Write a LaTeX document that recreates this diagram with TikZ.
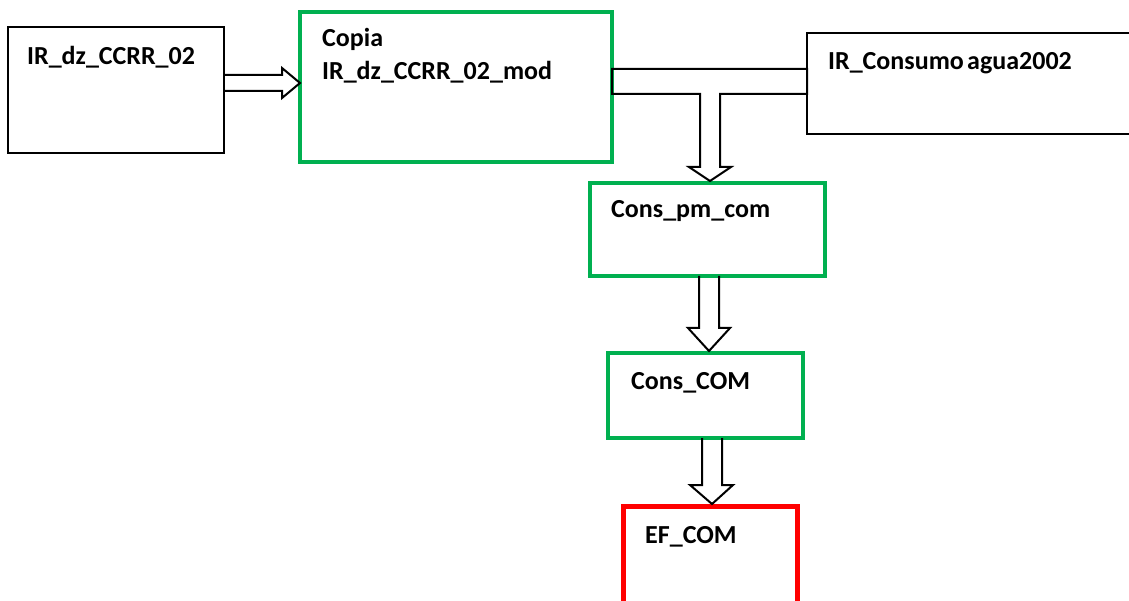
\documentclass[tikz,border=0pt]{standalone}
\usepackage{fontspec}
\setmainfont{Carlito}
\usetikzlibrary{calc}
\definecolor{boxgreen}{RGB}{0,176,80}
\definecolor{boxred}{RGB}{255,0,0}

\begin{document}
\begin{tikzpicture}[x=1pt,y=-1pt,
  box/.style={draw, rectangle, inner sep=0pt, outer sep=0pt},
  plainbox/.style={box, draw=black, line width=2pt},
  stagebox/.style={box, draw=boxgreen, line width=4.5pt},
  resultbox/.style={box, draw=boxred, line width=5pt},
  boxtext/.style={anchor=base west, inner sep=0pt, font=\fontsize{26}{33}\selectfont\bfseries},
  hollow/.style={draw=black, line width=2pt, line join=miter}]

\useasboundingbox (0,0) rectangle (1129,601);
\clip (0,0) rectangle (1129,601);

% boxes
\node[plainbox, minimum width=216pt, minimum height=126pt] (src) at (116,90) {};
\node[stagebox, minimum width=312pt, minimum height=150pt] (copy) at (456,87) {};
\node[plainbox, minimum width=333pt, minimum height=101pt] (water) at (973.5,83.5) {};
\node[stagebox, minimum width=235pt, minimum height=93pt] (pm) at (707.5,229.5) {};
\node[stagebox, minimum width=195pt, minimum height=85pt] (com) at (705.5,395.5) {};
\node[resultbox, minimum width=174pt, minimum height=109pt] (ef) at (710,560.5) {};

% box titles
\node[boxtext] (srct) at (27,65) {IR\_dz\_CCRR\_02};
\node[boxtext] (copyt1) at (322,47) {Copia};
\node[boxtext] (copyt2) at (322,80) {IR\_dz\_CCRR\_02\_mod};
\node[boxtext] (watert) at (828,70) {IR\_Consumo\kern-0.1em\ agua2002};
\node[boxtext] (pmt) at (611,218) {Cons\_pm\_com};
\node[boxtext] (comt) at (631,389) {Cons\_COM};
\node[boxtext] (eft) at (645,543) {EF\_COM};

% hollow block arrows
\draw[hollow] (src.east |- 0,75) -- (282,75) -- (282,68) -- (copy.west |- 0,83)
  -- (282,98) -- (282,91) -- (src.east |- 0,91);

\draw[hollow] (copy.east |- 0,69) -- (water.west |- 0,69) -- (water.west |- 0,94)
  -- (720,94) -- (720,167) -- (731,167) -- (710,181) -- (689,167) -- (700,167)
  -- (700,94) -- (copy.east |- 0,94) -- cycle;

\draw[hollow] (pm.south -| 699,0) -- (699,328) -- (688,328) -- (709,351)
  -- (730,328) -- (719,328) -- (pm.south -| 719,0);

\draw[hollow] (com.south -| 702,0) -- (702,485) -- (690,485) -- (712,504)
  -- (733,485) -- (722,485) -- (com.south -| 722,0);
\end{tikzpicture}
\end{document}
